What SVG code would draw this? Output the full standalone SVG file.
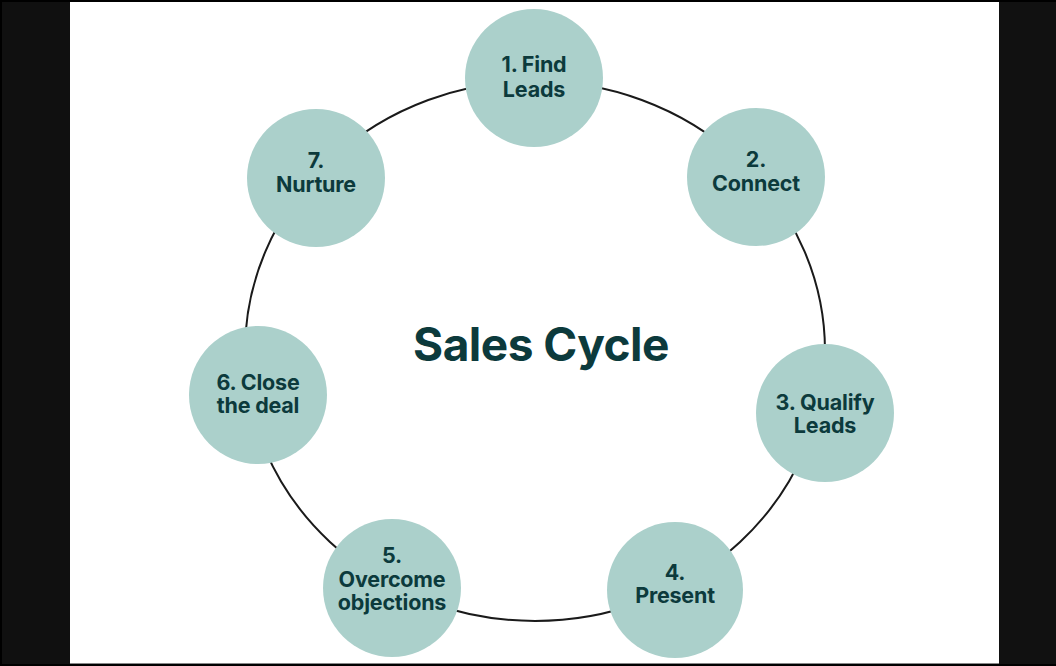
<svg xmlns="http://www.w3.org/2000/svg" width="1056" height="666" viewBox="0 0 1056 666">
<style>
.node circle{fill:#abd0cb}
.node text{font-family:Inter,"Noto Sans",sans-serif;font-weight:700;font-size:21.5px;fill:#0c3a3c;text-anchor:middle;letter-spacing:-0.2px}
.title{font-family:Inter,"Noto Sans",sans-serif;font-weight:700;font-size:46px;fill:#0c3a3c;text-anchor:middle;letter-spacing:-0.5px}
.ring{fill:none;stroke:#1a1a1a;stroke-width:2}
</style>
<rect x="0" y="0" width="1056" height="666" fill="#000"/>
<rect x="2" y="2" width="68" height="662" fill="#101010"/>
<rect x="999" y="2" width="57" height="662" fill="#111"/>
<rect x="70" y="2" width="929" height="662" fill="#fff"/>
<rect x="70" y="663" width="929" height="1" fill="#888"/>
<g id="connectors">
<ellipse class="ring" cx="535" cy="351" rx="290" ry="270"/>
</g>
<text class="title" x="541" y="361">Sales Cycle</text>
<g id="node1" class="node"><circle cx="534" cy="78" r="69"/><text x="534" y="72">1. Find</text><text x="534" y="97">Leads</text></g>
<g id="node2" class="node"><circle cx="756" cy="177" r="69"/><text x="756" y="167">2.</text><text x="756" y="191">Connect</text></g>
<g id="node3" class="node"><circle cx="825" cy="413" r="69"/><text x="825" y="410">3. Qualify</text><text x="825" y="433">Leads</text></g>
<g id="node4" class="node"><circle cx="675" cy="590" r="68"/><text x="675" y="580">4.</text><text x="675" y="603">Present</text></g>
<g id="node5" class="node"><circle cx="392" cy="588" r="69"/><text x="392" y="563">5.</text><text x="392" y="587">Overcome</text><text x="392" y="610">objections</text></g>
<g id="node6" class="node"><circle cx="258" cy="395" r="69"/><text x="258" y="390">6. Close</text><text x="258" y="413">the deal</text></g>
<g id="node7" class="node"><circle cx="316" cy="178" r="69"/><text x="316" y="168">7.</text><text x="316" y="192">Nurture</text></g>
</svg>
